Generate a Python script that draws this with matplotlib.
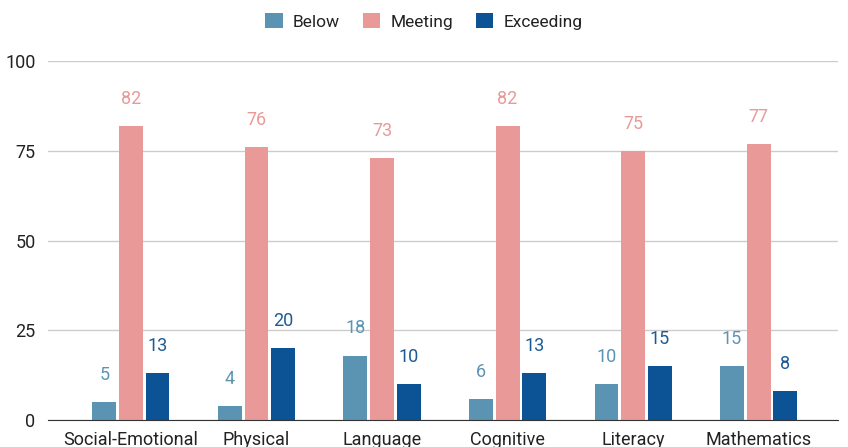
import numpy as np
import matplotlib
matplotlib.use("Agg")
from matplotlib import pyplot as plt

categories = ["Social-Emotional", "Physical", "Language", "Cognitive", "Literacy", "Mathematics"]
below = [5, 4, 18, 6, 10, 15]
meeting = [82, 76, 73, 82, 75, 77]
exceeding = [13, 20, 10, 13, 15, 8]
series_names = ["Below", "Meeting", "Exceeding"]
colors = ["#5b94b3", "#ea9999", "#0b5394"]
label_colors = ["#5b94b3", "#ea9999", "#1c5a96"]

plt.rcParams['font.family'] = ['Roboto', 'DejaVu Sans']

fig = plt.figure(figsize=(8.48, 4.47), dpi=100)
ax = fig.add_axes([0.0566, 0.06, 0.9314, 0.8035])

x = np.arange(len(categories))
w = 0.19
off = 0.212
for i, (vals, name) in enumerate(zip([below, meeting, exceeding], series_names)):
    bars = ax.bar(x + (i - 1) * off, vals, w, color=colors[i], label=name, zorder=3)
    for b, v in zip(bars, vals):
        ax.annotate(str(v), (b.get_x() + b.get_width() / 2, v), xytext=(0, 13),
                    textcoords="offset points", ha="center", va="bottom",
                    fontsize=13, color=label_colors[i])

ax.set_ylim(0, 100)
ax.set_xlim(-0.66, 5.63)
ax.set_yticks([0, 25, 50, 75, 100])
ax.set_xticks(x)
ax.set_xticklabels(categories, fontsize=13, color="#222222")
ax.tick_params(axis="y", labelsize=13, colors="#222222", length=0, pad=9)
ax.tick_params(axis="x", length=0, pad=8)
ax.grid(axis="y", color="#cccccc", linewidth=1, zorder=0)
for s in ["top", "right", "left"]:
    ax.spines[s].set_visible(False)
ax.spines["bottom"].set_color("#333333")
ax.spines["bottom"].set_zorder(4)

fig.legend(loc="upper center", bbox_to_anchor=(0.5, 1.006), ncol=3, frameon=False,
           fontsize=12.5, handlelength=1.0, handleheight=1.0, columnspacing=1.3,
           handletextpad=0.6, labelcolor="#222222")

fig.savefig("out.png", dpi=100)
